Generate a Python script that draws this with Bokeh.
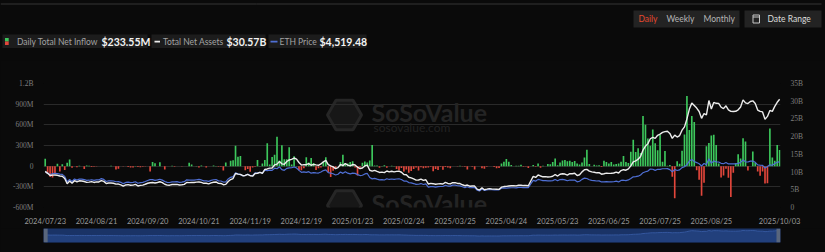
import pandas as pd
from bokeh.plotting import figure
from bokeh.models import Range1d, LinearAxis, FixedTicker, ColumnDataSource, Label
from bokeh.layouts import column
from bokeh.embed import file_html
from bokeh.resources import INLINE
from bokeh.core.properties import value

# ---------------- data ----------------
market_holidays = ["2024-09-02", "2024-11-28", "2024-12-25", "2025-01-01", "2025-01-09",
                   "2025-01-20", "2025-02-17", "2025-04-18", "2025-05-26", "2025-06-19",
                   "2025-07-04", "2025-09-01"]
trade_days = [d.strftime("%Y/%m/%d") for d in pd.bdate_range("2024-07-23", "2025-10-03")
              if d.strftime("%Y-%m-%d") not in market_holidays]

# Daily total net inflow, million USD
net_inflow_musd = [
    107, -113, -152, -163, -98, 34, -77, 27, -54, 49, 98, -24, -2, -16, 5, -1, -40, 11, 5, -13,
    -7, -6, -1, 0, -3, -3, 0, 5, -2,
    -47, -37, 0, -6, 0, -11, -20, -20, 1, -13, -15, -9, -5, -1, -79, 62, 43, 0, 58, 0,
    -48, -3, 0, 7, -7, 0, 0, -4, 0, 0, 49, 24, 0, 2, -21, 11, -2, -19, -2, 0, 8, 4, -10,
    -10, -63, 52, 0, 79, 85, 295, 136, 146, -3, -60, -40, -81, -20, -8, 91, 3, 40, 90, 332,
    24, 132, 167, 428, 83, 305, 102, 102, 273, 24, 145, 3, -60, -60, -30, 130, 54, 117, 47, -56, -30,
    -20, 59, 129, -87, -159, -68, -39, 0, 60, 167, 45, 40, 60, 70, -20, -136, -20, 50, 67, 55,
    83, 308, 8, 10, -22, 4, 12, -22, 0, 6, 4, -40, -60, -25, -78, -50, -94, -71, -42,
    -20, -63, -15, -30, -23, -21, -10, -73, -40, -55, -7, -52, -12, -18, -30, 0, -3, -6, 5, -4,
    -7, -50, 0, -7, -50, 0, -3, -30, -38, -8, 0, 0, -12, -32, -26, 38, 63, 104, 64, 18, -2, 6,
    6, 20, -10, -5, -25, 0, 18, -8, 40, -22, 5, 0, 32, 28, 60, 110, 15, 55, 84, 91, 70,
    78, 60, 75, 40, 25, 52, 125, 240, 30, -2, 21, 11, 15, -12, 80, 62, 40, 60, 25, 30,
    40, 64, 149, 62, 46, 211, 383, 205, 259, 192, 727, 602, 402, 296, 534, 332, 231, 453,
    65, 219, 6, 17, -152, -465, 73, 35, 222, 461, 1019, 524, 729, 640, -59, -197, -429, -240,
    288, 338, 444, 455, 307, 39, -165, -135, -38, -168, -447, -97, 44, 172, 113, 405, 359,
    -62, -2, 213, 48, -76, -140, -79, -251, -248, 547, 127, 80, 307, 233.55,
]

# Total net assets, billion USD
net_assets_busd = [
    10.20, 9.64, 9.02, 9.14, 9.16, 9.09, 8.88, 8.83, 8.19, 6.68, 7.48, 6.84, 7.56, 7.20, 7.53,
    7.48, 7.34, 7.09, 7.15, 7.29, 7.07, 7.23, 7.21, 7.59, 7.37, 6.77, 6.91, 6.91, 6.85,
    6.59, 6.62, 6.40, 6.02, 6.37, 6.45, 6.29, 6.32, 6.51, 6.08, 6.25, 6.33, 6.57, 6.84, 7.00,
    7.05, 6.91, 7.05, 7.26, 7.02, 6.57, 6.32, 6.30, 6.49, 6.49, 6.54, 6.35, 6.41, 6.54, 7.05,
    7.02, 7.07, 7.05, 7.15, 7.21, 7.10, 6.83, 6.83, 6.67, 6.94, 7.13, 7.21, 6.80,
    6.78, 6.43, 6.53, 7.34, 7.89, 8.17, 9.60, 9.42, 9.35, 8.97, 9.05, 9.34, 8.96, 8.84, 9.61,
    9.66, 9.92, 9.66, 10.73, 10.88, 11.10, 11.15, 12.01, 12.24, 13.00, 12.32, 12.20, 12.98,
    13.42, 13.57, 13.97, 13.66, 12.71, 11.97, 12.11, 12.07, 12.39, 11.92, 12.17, 12.03, 11.92,
    12.28, 12.89, 13.28, 12.10, 11.75, 11.48, 10.99, 11.27, 12.14, 11.82, 12.42, 11.95, 11.73,
    12.12, 11.98, 11.38, 11.00, 11.16, 11.73, 11.95, 10.51, 10.26, 10.49, 10.18, 9.89, 10.00,
    9.84, 10.30, 10.04, 10.23, 10.04, 10.20, 10.25, 9.95, 9.28, 9.26, 8.54, 8.36, 8.06,
    7.74, 7.77, 8.02, 7.64, 7.83, 6.64, 6.82, 6.72, 6.55, 6.66, 6.70, 6.64, 7.09, 6.79, 6.66,
    7.03, 7.00, 6.79, 6.76, 6.42, 6.15, 6.35, 6.01, 6.05, 6.05, 5.18, 4.91, 5.54, 5.02, 5.17,
    5.33, 5.23, 5.18, 5.15, 5.12, 5.74, 5.91, 5.95, 6.07, 6.14, 6.14, 6.10,
    6.27, 6.29, 6.19, 6.21, 6.15, 7.48, 8.80, 8.47, 9.17, 8.90, 8.66, 8.70, 8.62, 8.64, 8.82,
    9.31, 8.88, 9.39, 9.54, 9.44, 9.16, 9.53, 9.54, 9.66, 9.00, 9.25, 10.05, 10.65, 10.75,
    10.27, 10.04, 9.95, 9.79, 9.85, 9.40, 9.53, 9.70, 9.63, 9.68, 9.74, 10.01,
    9.74, 10.43, 10.67, 10.52, 10.90, 11.74, 12.89, 13.14, 13.64, 14.41, 16.22, 17.30, 18.03,
    19.40, 19.82, 19.51, 20.38, 20.72, 21.19, 21.41, 21.53, 20.91, 19.52, 20.42, 19.89, 20.31,
    21.82, 22.76, 25.02, 27.78, 29.46, 28.80, 28.06, 27.09, 25.17, 26.52, 26.14, 30.19, 27.81,
    29.67, 29.41, 29.39, 28.30, 27.91, 28.70, 27.56, 27.13, 27.11, 27.15, 27.58, 28.37, 30.38,
    29.52, 29.34, 29.93, 30.11, 29.37, 27.51, 27.12, 26.98, 24.92, 25.71, 27.41, 27.14, 28.54,
    29.70, 30.57,
]

# ETH price, USD
eth_price_usd = [
    3480, 3336, 3175, 3275, 3320, 3280, 3230, 3200, 2990, 2420, 2680, 2460, 2720, 2600, 2720,
    2700, 2660, 2570, 2590, 2640, 2570, 2630, 2620, 2760, 2680, 2460, 2530, 2530, 2510,
    2430, 2450, 2370, 2230, 2360, 2390, 2340, 2360, 2430, 2270, 2340, 2370, 2460, 2560, 2650,
    2650, 2580, 2630, 2690, 2600, 2450, 2360, 2350, 2420, 2420, 2440, 2370, 2390, 2440, 2630,
    2600, 2610, 2600, 2640, 2670, 2620, 2520, 2530, 2470, 2570, 2640, 2660, 2520,
    2510, 2400, 2420, 2720, 2890, 2960, 3370, 3260, 3180, 3050, 3100, 3210, 3110, 3070, 3350,
    3330, 3420, 3320, 3650, 3590, 3650, 3620, 3850, 3790, 4000, 3700, 3630, 3830, 3880, 3900,
    3990, 3870, 3620, 3420, 3470, 3420, 3490, 3330, 3390, 3360, 3340,
    3450, 3600, 3680, 3380, 3330, 3270, 3140, 3220, 3450, 3310, 3470, 3330, 3250, 3340, 3310,
    3180, 3080, 3110, 3250, 3300, 2880, 2730, 2790, 2700, 2630, 2660, 2610, 2740, 2670, 2720,
    2670, 2720, 2740, 2660, 2500, 2510, 2340, 2310, 2240,
    2150, 2170, 2240, 2140, 2200, 1870, 1920, 1910, 1870, 1920, 1930, 1930, 2060, 1980, 1970,
    2080, 2070, 2010, 2000, 1900, 1820, 1900, 1800, 1810, 1810, 1550, 1470, 1670, 1520, 1570,
    1620, 1590, 1580, 1580, 1580, 1760, 1790, 1770, 1790, 1800, 1800, 1790,
    1840, 1840, 1810, 1820, 1810, 2200, 2580, 2490, 2680, 2610, 2540, 2550, 2520, 2520, 2550,
    2660, 2530, 2660, 2680, 2630, 2530, 2610, 2600, 2610, 2420, 2480, 2680, 2810, 2770, 2640,
    2580, 2550, 2510, 2520, 2410, 2420, 2450, 2420, 2420, 2430, 2490,
    2410, 2570, 2590, 2540, 2620, 2770, 2950, 2960, 3010, 3140, 3380, 3480, 3550, 3760, 3740,
    3620, 3740, 3720, 3790, 3790, 3810, 3700, 3480, 3720, 3610, 3680, 3910, 4000, 4220, 4600,
    4760, 4550, 4440, 4320, 4080, 4340, 4230, 4830, 4380, 4600, 4510, 4500, 4360, 4320, 4450,
    4300, 4300, 4310, 4310, 4350, 4460, 4710, 4520, 4500, 4590, 4590, 4470, 4200, 4160, 4150,
    3870, 4030, 4210, 4150, 4350, 4480, 4519.48,
]

tick_labels = ["2024/07/23", "2024/08/21", "2024/09/20", "2024/10/21", "2024/11/19",
               "2024/12/19", "2025/01/23", "2025/02/24", "2025/03/25", "2025/04/24",
               "2025/05/23", "2025/06/25", "2025/07/25", "2025/08/25", "2025/10/03"]
left_ticks = [-600e6, -300e6, 0, 300e6, 600e6, 900e6, 1200e6]
left_tick_labels = ["-600M", "-300M", "0", "300M", "600M", "900M", "1.2B"]
right_ticks = [0, 5e9, 10e9, 15e9, 20e9, 25e9, 30e9, 35e9]
right_tick_labels = ["0", "5B", "10B", "15B", "20B", "25B", "30B", "35B"]

n = len(trade_days)
assert n == len(net_inflow_musd) == len(net_assets_busd) == len(eth_price_usd), \
    (n, len(net_inflow_musd), len(net_assets_busd), len(eth_price_usd))

# ---------------- style ----------------
BG = "#0a0a0a"
GREEN = "#3dc75c"
RED = "#e2463b"
WHITE_LINE = "#ececec"
BLUE_LINE = "#4f6fd4"
FONT = "Lato"

src = ColumnDataSource(dict(
    x=list(range(n)),
    flow=[v * 1e6 for v in net_inflow_musd],
    color=[GREEN if v >= 0 else RED for v in net_inflow_musd],
    na=[v * 1e9 for v in net_assets_busd],
    eth=eth_price_usd,
))

# ---------------- header ----------------
h = figure(width=825, height=60, x_range=Range1d(0, 825), y_range=Range1d(60, 0),
           output_backend="svg", toolbar_location=None, min_border=0,
           x_axis_type=None, y_axis_type=None, background_fill_color=BG,
           border_fill_color=BG, outline_line_color=None)
h.frame_align = False
h.grid.visible = False
h.segment(x0=[0], y0=[3.5], x1=[821], y1=[3.5], line_color="#353535", line_width=1)
# period buttons
h.quad(left=[633, 744], right=[739, 821], top=[10, 10], bottom=[27, 27],
       fill_color="#232323", line_color=None)
h.text(x=[638, 666, 703], y=[18.8] * 3, text=["Daily", "Weekly", "Monthly"],
       text_color=["#e5492f", "#b5b5b5", "#b5b5b5"], text_font=value(FONT),
       text_font_size="8.5px", text_baseline="middle", text_align="left")
h.quad(left=[752.5], right=[759], top=[14.5], bottom=[22.5], fill_color=None,
       line_color="#c8c8c8", line_width=1)
h.segment(x0=[752.5], y0=[16.5], x1=[759], y1=[16.5], line_color="#c8c8c8", line_width=1)
h.text(x=[767], y=[18.8], text=["Date Range"], text_color="#dcdcdc", text_font=value(FONT),
       text_font_size="8.5px", text_baseline="middle", text_align="left")
# legend chips
h.quad(left=[2, 151, 268], right=[147, 265, 366], top=[34, 34, 34], bottom=[47.5, 47.5, 47.5],
       fill_color="#1c1c1c", line_color=None)
h.quad(left=[4.5, 4.5], right=[8.2, 8.2], top=[37.6, 41], bottom=[41, 44.4],
       fill_color=[GREEN, RED], line_color=None)
h.quad(left=[154, 270], right=[159.5, 277], top=[40.2, 40.2], bottom=[42, 42],
       fill_color=[WHITE_LINE, BLUE_LINE], line_color=None)
h.text(x=[16.5, 162.5, 279], y=[41, 41, 41],
       text=["Daily Total Net Inflow", "Total Net Assets", "ETH Price"],
       text_color="#a3a3a3", text_font=value(FONT), text_font_size="8.5px",
       text_baseline="middle", text_align="left")
h.text(x=[101, 226, 319], y=[41, 41, 41],
       text=[f"${net_inflow_musd[-1]:.2f}M", f"${net_assets_busd[-1]:.2f}B",
             f"${eth_price_usd[-1]:,.2f}"],
       text_color="#f2f2f2", text_font=value(FONT), text_font_size="10.5px",
       text_font_style="bold", text_baseline="middle", text_align="left")

# ---------------- main chart ----------------
xr = Range1d(-0.7, n - 0.65)
p = figure(width=825, height=168, x_range=xr, y_range=Range1d(-600e6, 1200e6),
           output_backend="svg", toolbar_location=None,
           min_border_left=43, min_border_right=45, min_border_top=23, min_border_bottom=15,
           background_fill_color=BG, border_fill_color=BG, outline_line_color=None)
p.extra_y_ranges = {"na": Range1d(0, 35e9), "eth": Range1d(-270, 12730)}


# watermark (decoration, pixel positions converted to the chart's units)
def px_x(px):
    return (px - 43) / 2.44 - 0.7


def px_y(py):
    return -600e6 + (213 - py) / 130 * 1800e6


for dy in (0, 95):
    p.scatter(x=[px_x(344)], y=[px_y(116 + dy)], marker="hex", size=34,
              fill_color="#171717", line_color="#262626", line_width=3, level="underlay")
    p.add_layout(Label(x=px_x(371), y=px_y(113 + dy), text="SoSoValue", text_color="#242424",
                       text_font=FONT, text_font_size="25px", text_font_style="bold",
                       text_baseline="middle", level="underlay"))
    p.add_layout(Label(x=px_x(373), y=px_y(129.5 + dy), text="sosovalue.com",
                       text_color="#222222", text_font=FONT, text_font_size="12px",
                       text_baseline="middle", level="underlay"))

p.vbar(x="x", top="flow", bottom=0, width=0.68, fill_color="color", line_color=None, source=src)
p.line("x", "eth", source=src, y_range_name="eth", line_color=BLUE_LINE, line_width=1.2)
p.line("x", "na", source=src, y_range_name="na", line_color=WHITE_LINE, line_width=1.4)

p.xgrid.visible = False
p.ygrid.grid_line_color = "#2a2a2a"
p.ygrid.grid_line_width = 1

tick_pos = [trade_days.index(t) for t in tick_labels]
p.xaxis.ticker = FixedTicker(ticks=tick_pos)
p.xaxis.major_label_overrides = {k: v for k, v in zip(tick_pos, tick_labels)}
p.yaxis.ticker = FixedTicker(ticks=left_ticks)
p.yaxis.major_label_overrides = {k: v for k, v in zip(left_ticks, left_tick_labels)}

right = LinearAxis(y_range_name="na", ticker=FixedTicker(ticks=right_ticks),
                   major_label_overrides={k: v for k, v in zip(right_ticks, right_tick_labels)})
p.add_layout(right, "right")

for ax in p.xaxis:
    ax.major_label_text_font = FONT
    ax.major_label_text_font_size = "7.5px"
    ax.major_label_text_color = "#9a9a9a"
    ax.major_label_standoff = 3
for ax in [*p.yaxis]:
    ax.major_label_text_font = "Liberation Serif"
    ax.major_label_text_font_size = "7.5px"
    ax.major_label_text_color = "#7e7e7e"
for ax in p.axis:
    ax.axis_line_color = None
    ax.major_tick_line_color = None
    ax.minor_tick_line_color = None
p.yaxis[0].major_label_standoff = 4
right.major_label_standoff = 4

# ---------------- navigator ----------------
nv = figure(width=825, height=24, x_range=xr, y_range=Range1d(-25e9, 39.5e9),
            output_backend="svg", toolbar_location=None,
            min_border_left=43, min_border_right=45, min_border_top=0, min_border_bottom=10,
            x_axis_type=None, y_axis_type=None, background_fill_color="#1a3366",
            border_fill_color=BG, outline_line_color=None)
nv.grid.visible = False
nv.varea(x="x", y1=-25e9, y2="na", source=src, fill_color="#22407c")
nv.line("x", "na", source=src, line_color="#3a5ea8", line_width=0.8)
nv.quad(left=[-0.7, n - 2.3], right=[1.0, n - 0.65], top=[39.5e9, 39.5e9],
        bottom=[-25e9, -25e9], fill_color="#59667c", line_color=None)

layout = column(h, p, nv, spacing=0)
layout.styles = {"background-color": BG}

with open("out.html", "w") as f:
    f.write(file_html(layout, INLINE))
